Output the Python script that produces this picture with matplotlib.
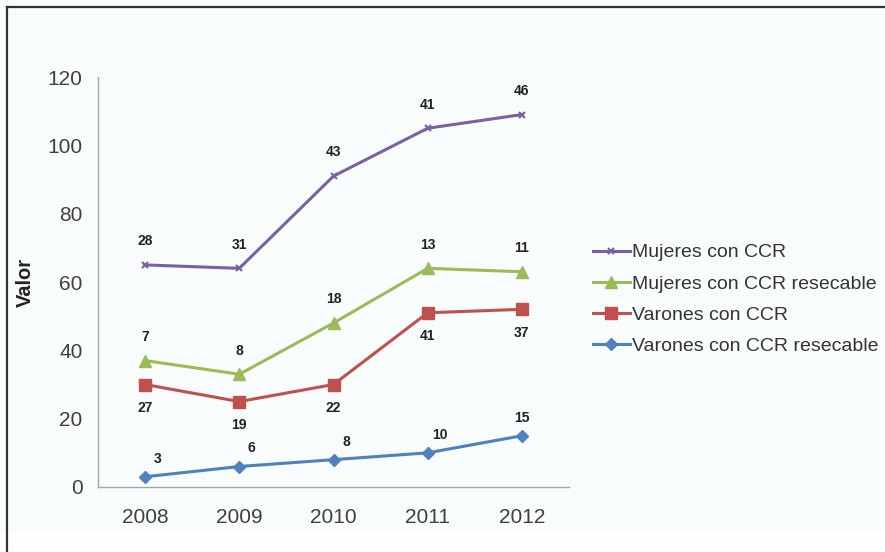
import numpy as np
import matplotlib
matplotlib.use("Agg")
import matplotlib.pyplot as plt
from matplotlib.patches import Rectangle
from matplotlib.lines import Line2D

plt.rcParams['font.family'] = ['Liberation Sans', 'DejaVu Sans']

years = ["2008", "2009", "2010", "2011", "2012"]

# individual counts per group (stacked on top of each other in the chart)
varones_res = [3, 6, 8, 10, 15]
varones = [27, 19, 22, 41, 37]
mujeres_res = [7, 8, 18, 13, 11]
mujeres = [28, 31, 43, 41, 46]

series = [
    ("Varones con CCR resecable", varones_res, "#4F81BD", "D", 6, 1.0),
    ("Varones con CCR", varones, "#C0504D", "s", 8.5, -1.0),
    ("Mujeres con CCR resecable", mujeres_res, "#9BBB59", "^", 8.5, 1.0),
    ("Mujeres con CCR", mujeres, "#7D60A0", "x", 5, 1.0),
]

fig = plt.figure(figsize=(8.85, 5.52), dpi=100)
fig.patch.set_facecolor("white")
fig.add_artist(Rectangle((0, 20 / 552), 1, 1, transform=fig.transFigure,
                         facecolor="#f8fcfd", edgecolor="none", zorder=-5))
# frame lines on the left and top edges
fig.add_artist(Line2D([7 / 885, 7 / 885], [0, 1 - 7 / 552], transform=fig.transFigure,
                      color="#333333", lw=1.6))
fig.add_artist(Line2D([7 / 885, 1], [1 - 7 / 552, 1 - 7 / 552], transform=fig.transFigure,
                      color="#333333", lw=1.6))

ax = fig.add_axes([98 / 885, 65 / 552, 471 / 885, 410 / 552])
ax.set_facecolor("none")

x = np.arange(len(years))
base = np.zeros(len(years))
handles = {}
for name, vals, color, marker, ms, side in series:
    top = base + np.array(vals)
    h, = ax.plot(x, top, color=color, lw=2.2, marker=marker, markersize=ms,
                 markeredgewidth=1.5 if marker == "x" else 1.0, label=name)
    handles[name] = h
    for i, v in enumerate(vals):
        if name == "Varones con CCR resecable":
            dx, dy = (9, 13) if i < 4 else (0, 13)
        else:
            dx, dy = 0, 17 * side
        ax.annotate(str(v), (x[i], top[i]), xytext=(dx, dy), textcoords="offset points",
                    ha="center", va="center", fontsize=10, fontweight="bold",
                    color="#222222")
    base = top

ax.set_xlim(-0.5, 4.5)
ax.set_ylim(0, 120)
ax.set_yticks(range(0, 121, 20))
ax.set_xticks(x)
ax.set_xticklabels(years)
ax.tick_params(axis="both", length=0, labelsize=15, labelcolor="#404040")
ax.tick_params(axis="y", pad=11)
ax.tick_params(axis="x", pad=15)
for s in ["top", "right"]:
    ax.spines[s].set_visible(False)
for s in ["left", "bottom"]:
    ax.spines[s].set_color("#a6a6a6")
    ax.spines[s].set_linewidth(1.0)
ax.set_ylabel("Valor", fontsize=14.5, fontweight="bold", color="#222222", labelpad=9)

order = ["Mujeres con CCR", "Mujeres con CCR resecable", "Varones con CCR",
         "Varones con CCR resecable"]
fig.legend([handles[n] for n in order], order, loc="center left",
           bbox_to_anchor=(593 / 885, 1 - 299.5 / 552), frameon=False,
           fontsize=14, handlelength=1.9, handletextpad=0.12, labelspacing=0.7,
           borderpad=0, borderaxespad=0, labelcolor="#333333")

fig.savefig("out.png", dpi=100)
